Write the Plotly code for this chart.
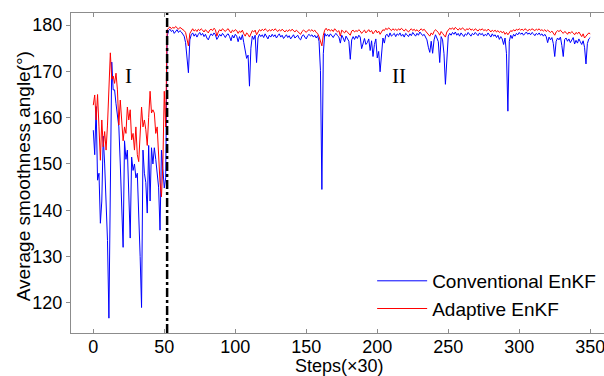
import plotly.graph_objects as go

# Average smoothness angle per step (steps counted in units of 30)
steps = list(range(0, 351))

conventional_enkf = [
    # 0-52: transient phase
    157.3, 152.0, 162.4, 146.5, 148.0, 137.2, 142.0, 156.0, 150.0, 140.0,
    133.5, 116.7, 145.0, 172.0, 166.0, 166.0, 163.0, 160.0, 158.0, 150.0,
    140.0, 132.0, 155.0, 151.0, 153.0, 144.0, 134.0, 151.5, 148.6, 150.0,
    147.0, 148.0, 140.0, 130.0, 119.0, 153.0, 148.0, 146.0, 139.4, 154.0,
    142.0, 153.5, 150.0, 153.5, 151.0, 148.6, 145.0, 135.7, 153.0, 149.0,
    144.8, 147.0, 177.5,
    # 53-350: steady phase
    178.8, 179.1, 178.6, 178.9, 178.2, 178.7, 179.0, 178.4, 178.8, 178.5,
    178.0, 177.6, 176.2, 173.5, 169.7, 176.8, 177.9, 178.3, 177.6, 178.1,
    177.4, 178.0, 178.4, 177.8, 178.2, 177.5, 178.0, 177.2, 176.8, 177.6,
    178.1, 177.7, 178.3, 177.9, 176.9, 177.4, 178.0, 177.6, 178.2, 177.8,
    177.3, 177.9, 178.1, 177.5, 176.6, 177.8, 177.2, 178.0, 177.6, 176.4,
    177.5, 176.8, 177.9, 176.2, 174.5, 172.8, 173.5, 166.8, 175.0, 177.6,
    176.9, 177.8, 171.9, 177.2, 178.0, 177.5, 177.9, 177.3, 178.1, 177.6,
    177.0, 177.8, 177.4, 178.0, 177.5, 177.9, 177.2, 177.7, 178.1, 177.4,
    177.8, 177.1, 177.6, 177.9, 177.3, 177.7, 177.0, 177.6, 177.9, 177.2,
    177.5, 177.8, 177.1, 176.8, 177.6, 177.9, 177.4, 177.0, 177.7, 178.0,
    177.6, 177.9, 177.4, 177.8, 177.2, 177.7, 176.5, 170.2, 144.5, 173.8,
    178.2, 177.6, 178.0, 177.5, 178.1, 177.8, 177.3, 177.9, 178.2, 177.7,
    177.4, 176.1, 177.8, 177.2, 176.4, 177.6, 177.0, 176.5, 172.6, 176.8,
    177.5, 176.9, 177.6, 177.1, 177.8, 177.4, 174.9, 176.3, 177.1, 175.8,
    176.2, 177.0, 174.5, 176.6, 173.2, 175.8, 177.0, 172.9, 174.3, 169.9,
    174.6, 177.2, 176.1, 177.8, 178.0, 177.4, 178.3, 177.6, 177.9, 178.2,
    177.5, 178.1, 177.8, 178.3, 177.6, 178.0, 177.4, 178.2, 177.9, 177.5,
    178.1, 177.7, 178.4, 178.0, 177.6, 178.2, 177.8, 178.5, 178.1, 177.7,
    178.0, 177.3, 176.8, 175.2, 174.1, 176.5, 173.9, 176.8, 177.9, 177.2,
    176.4, 171.9, 177.5, 176.8, 173.8, 167.2, 174.0, 177.6, 178.2, 177.8,
    178.4, 178.0, 178.5, 177.8, 178.2, 177.6, 178.3, 178.0, 177.5, 178.1,
    177.8, 178.4, 178.0, 177.6, 178.2, 177.9, 178.4, 178.1, 177.7, 178.3,
    177.9, 178.2, 177.6, 178.0, 177.7, 178.3, 177.8, 177.4, 178.1, 177.6,
    177.9, 177.3, 177.8, 176.9, 177.5, 177.0, 175.8, 177.2, 173.9, 161.4,
    176.5, 177.8, 177.1, 178.0, 177.6, 178.2, 177.9, 178.4, 178.0, 178.3,
    177.8, 178.2, 178.5, 178.0, 178.3, 177.9, 178.4, 178.1, 177.7, 178.2,
    177.9, 178.3, 177.8, 178.1, 177.6, 178.0, 177.5, 176.2, 177.4, 176.8,
    177.3, 176.0, 173.2, 176.5, 177.2, 176.8, 177.4, 175.6, 173.2, 176.9,
    177.2, 176.5, 177.0, 176.2, 176.8, 177.3, 175.9, 176.7, 176.1, 177.0,
    176.4, 175.8, 176.6, 175.2, 171.6, 176.0, 177.0, 177.3,
]

adaptive_enkf = [
    # 0-52: transient phase
    162.7, 164.9, 159.5, 165.0, 158.0, 150.8, 159.5, 153.7, 157.0, 153.0,
    158.4, 166.0, 174.0, 168.3, 169.0, 167.4, 169.6, 166.0, 158.4, 163.8,
    160.0, 155.0, 158.0, 156.6, 162.3, 159.5, 161.7, 155.2, 156.6, 153.0,
    158.0, 152.0, 150.5, 156.0, 162.3, 158.0, 159.5, 157.4, 154.0, 160.0,
    165.7, 161.0, 161.7, 161.0, 156.6, 158.0, 150.0, 146.0, 142.9, 150.0,
    165.7, 158.0, 179.0,
    # 53-350: steady phase
    179.4, 179.6, 179.2, 179.5, 179.3, 179.7, 179.4, 179.1, 179.5, 179.3,
    179.0, 178.8, 178.4, 177.2, 175.5, 178.2, 178.9, 179.2, 178.7, 179.0,
    178.6, 179.1, 178.8, 179.2, 178.9, 178.5, 179.0, 178.7, 178.3, 178.9,
    179.1, 178.8, 179.3, 179.0, 177.6, 178.5, 179.0, 178.7, 179.2, 178.9,
    178.6, 179.0, 179.2, 178.7, 178.3, 178.9, 178.6, 179.0, 178.8, 178.2,
    178.7, 178.4, 178.9, 178.1, 177.6, 178.3, 178.0, 177.4, 178.1, 178.8,
    178.5, 178.9, 177.9, 178.6, 179.0, 178.7, 179.1, 178.8, 179.2, 178.9,
    178.6, 179.0, 178.7, 179.1, 178.8, 179.2, 178.9, 178.6, 179.0, 178.7,
    179.1, 178.8, 178.5, 178.9, 178.6, 179.0, 178.7, 179.1, 178.8, 178.5,
    178.9, 178.6, 178.3, 178.0, 178.6, 178.9, 178.7, 178.4, 178.8, 179.0,
    178.7, 179.0, 178.6, 178.9, 178.4, 178.2, 177.5, 176.4, 175.5, 177.8,
    178.9, 179.3, 178.8, 179.1, 178.7, 179.0, 178.6, 179.2, 178.9, 178.5,
    178.8, 177.6, 178.9, 178.6, 178.3, 178.8, 178.5, 178.2, 177.8, 178.7,
    178.9, 178.5, 178.8, 178.6, 179.0, 178.7, 178.2, 178.6, 178.9, 178.3,
    178.7, 179.0, 178.5, 178.8, 178.1, 178.6, 178.9, 178.3, 178.7, 178.0,
    178.6, 179.0, 178.8, 179.3, 179.0, 179.4, 179.1, 178.8, 179.2, 178.9,
    179.1, 178.8, 179.2, 178.9, 179.3, 179.0, 178.7, 179.1, 178.8, 178.5,
    178.9, 179.2, 178.8, 179.1, 178.7, 179.0, 178.6, 178.9, 179.2, 178.8,
    179.1, 178.7, 178.4, 178.1, 177.6, 178.3, 177.9, 178.6, 179.0, 178.7,
    178.4, 177.8, 178.6, 178.2, 177.9, 177.4, 178.5, 179.0, 179.3, 179.1,
    179.4, 179.0, 179.5, 179.2, 178.9, 179.3, 179.0, 179.4, 179.1, 178.8,
    179.2, 179.0, 179.3, 178.9, 179.1, 178.8, 179.2, 179.0, 178.7, 179.1,
    178.9, 179.2, 178.8, 179.0, 178.7, 179.1, 178.9, 178.5, 178.9, 178.6,
    178.9, 178.5, 178.8, 178.4, 178.7, 178.3, 178.6, 178.0, 178.4, 177.9,
    178.5, 178.8, 178.6, 179.0, 178.7, 179.1, 178.9, 179.2, 178.9, 179.1,
    178.8, 179.2, 179.0, 178.7, 179.1, 178.9, 179.2, 179.0, 178.8, 179.1,
    178.9, 179.2, 178.8, 179.0, 178.7, 179.0, 178.6, 178.9, 178.7, 178.4,
    178.7, 178.3, 177.8, 178.5, 178.8, 178.6, 178.9, 178.5, 178.2, 178.6,
    178.4, 178.0, 178.5, 178.2, 178.6, 178.3, 177.9, 178.4, 178.1, 178.5,
    178.0, 177.5, 178.1, 177.2, 177.6, 178.0, 178.3, 178.1,
]

switch_step = 52
x_ticks = [0, 50, 100, 150, 200, 250, 300, 350]
y_ticks = [120, 130, 140, 150, 160, 170, 180]
phase_labels = ["I", "II"]
phase_label_x = [24.5, 215]
phase_label_y = [169.0, 169.0]
x_title = "Steps(×30)"
y_title = "Average smoothness angle(°)"

fig = go.Figure()
fig.add_trace(go.Scatter(
    x=steps, y=conventional_enkf, mode="lines", name="Conventional EnKF",
    line=dict(color="#0000FF", width=1),
))
fig.add_trace(go.Scatter(
    x=steps, y=adaptive_enkf, mode="lines", name="Adaptive EnKF",
    line=dict(color="#FF0000", width=1),
))

# Vertical dash-dot separator between the two phases
fig.add_shape(
    type="line", xref="x", yref="paper",
    x0=switch_step, x1=switch_step, y0=0, y1=1,
    line=dict(color="black", width=2.5, dash="dashdot"),
)

for txt, lx, ly in zip(phase_labels, phase_label_x, phase_label_y):
    fig.add_annotation(
        x=lx, y=ly, xref="x", yref="y", text=txt, showarrow=False,
        font=dict(family="Liberation Serif, Times New Roman, serif", size=21, color="black"),
    )

sans = "Liberation Sans, Arial, sans-serif"
tick_font = dict(family=sans, size=18, color="black")
title_font = dict(family=sans, size=18, color="black")
y_title_font = dict(family=sans, size=19, color="black")
legend_font = dict(family=sans, size=19, color="black")

# Axis titles placed as paper-anchored text
fig.add_annotation(
    x=0.503, y=-0.104, xref="paper", yref="paper", text=x_title,
    showarrow=False, xanchor="center", yanchor="middle", font=title_font,
)
fig.add_annotation(
    x=-0.09, y=0.49, xref="paper", yref="paper", text=y_title,
    showarrow=False, xanchor="center", yanchor="middle", textangle=-90,
    font=y_title_font,
)

fig.update_layout(
    width=604, height=376,
    margin=dict(l=71, r=0, t=13, b=43, autoexpand=False),
    paper_bgcolor="white", plot_bgcolor="white",
    font=tick_font,
    showlegend=True,
    legend=dict(
        x=0.565, y=0.222, xanchor="left", yanchor="top",
        bgcolor="rgba(0,0,0,0)", font=legend_font,
        itemwidth=50, tracegroupgap=0,
    ),
    xaxis=dict(
        range=[-15.7, 359.7], tickvals=x_ticks, ticktext=[str(v) for v in x_ticks],
        showgrid=False, zeroline=False, showline=True, linecolor="#8c8c8c",
        linewidth=1, mirror="ticks", ticks="inside", ticklen=4, tickcolor="#8c8c8c",
        tickfont=tick_font, automargin=False, ticklabeloverflow="allow",
        ticklabelstandoff=-3,
    ),
    yaxis=dict(
        range=[113.5, 182.6], tickvals=y_ticks, ticktext=[str(v) for v in y_ticks],
        showgrid=False, zeroline=False, showline=True, linecolor="#8c8c8c",
        linewidth=1, mirror="ticks", ticks="outside", ticklen=4, tickcolor="#8c8c8c",
        tickfont=tick_font, automargin=False,
    ),
)

fig.write_html("out.html")
